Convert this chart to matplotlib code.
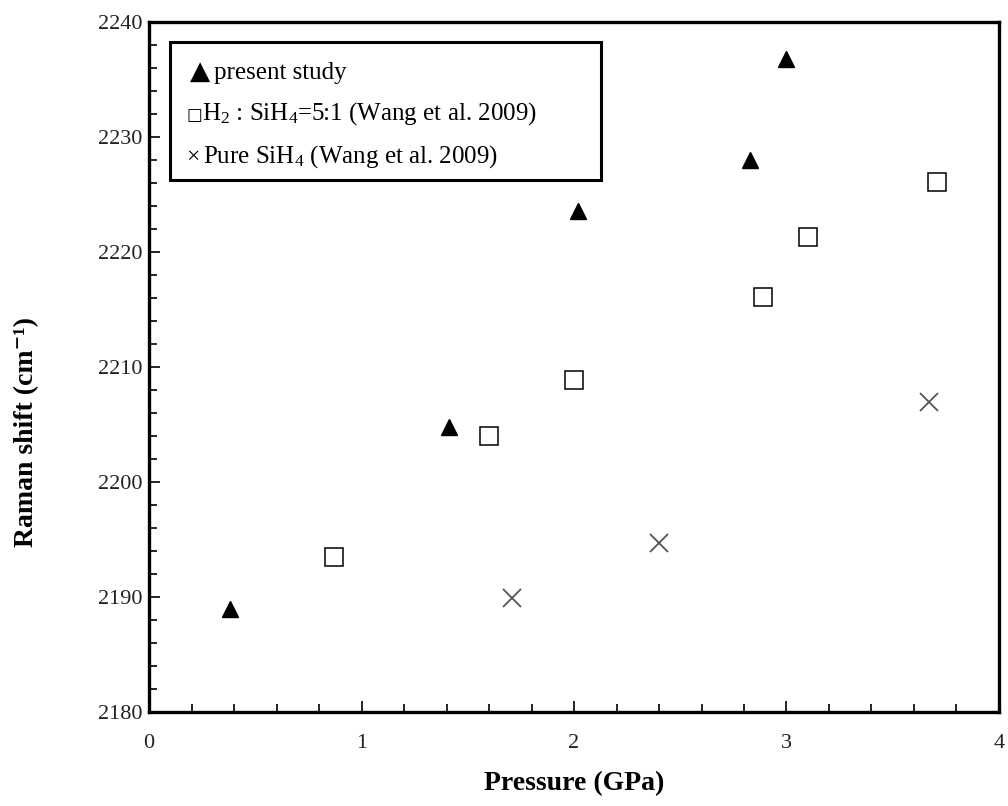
import matplotlib
matplotlib.use("Agg")
import matplotlib.pyplot as plt
from matplotlib.patches import Rectangle
from matplotlib.ticker import MultipleLocator

plt.rcParams['font.family'] = ['Liberation Serif', 'DejaVu Serif']
plt.rcParams['mathtext.fontset'] = 'custom'
plt.rcParams['mathtext.rm'] = 'Liberation Serif'
plt.rcParams['mathtext.it'] = 'Liberation Serif:italic'
plt.rcParams['mathtext.bf'] = 'Liberation Serif:bold'

# present study
tri_p = [0.38, 1.41, 2.02, 2.83, 3.00]
tri_r = [2189.0, 2204.8, 2223.6, 2228.0, 2236.8]
# H2:SiH4=5:1 (Wang et al. 2009)
sq_p = [0.87, 1.60, 2.00, 2.89, 3.10, 3.71]
sq_r = [2193.5, 2204.0, 2208.9, 2216.1, 2221.3, 2226.1]
# Pure SiH4 (Wang et al. 2009)
x_p = [1.71, 2.40, 3.67]
x_r = [2189.9, 2194.7, 2207.0]

legend_symbols = ["▲", "□", "×"]
legend_labels = ["present study",
                 "H$_2$ : SiH$_4$=5:1 (Wang et al. 2009)",
                 "Pure SiH$_4$ (Wang et al. 2009)"]

fig = plt.figure(figsize=(10.08, 8.06), dpi=100)
ax = fig.add_axes([0.148, 0.1166, 0.843, 0.8561])

ax.plot(tri_p, tri_r, linestyle='none', marker='^', markersize=11,
        color='black', zorder=3)
ax.plot(sq_p, sq_r, linestyle='none', marker='s', markersize=13,
        markerfacecolor='white', markeredgecolor='black', markeredgewidth=1.1, zorder=3)
ax.plot(x_p, x_r, linestyle='none', marker='x', markersize=13,
        color='#555555', markeredgewidth=1.3, zorder=3)

ax.set_xlim(0, 4)
ax.set_ylim(2180, 2240)
ax.xaxis.set_major_locator(MultipleLocator(1))
ax.xaxis.set_minor_locator(MultipleLocator(0.2))
ax.yaxis.set_major_locator(MultipleLocator(10))
ax.yaxis.set_minor_locator(MultipleLocator(2))
ax.tick_params(which='both', direction='in', labelsize=16, width=1.2,
               labelcolor='#222222')
ax.tick_params(which='major', length=8)
ax.tick_params(which='minor', length=6)
ax.tick_params(axis='x', which='both', pad=16, top=False)
ax.tick_params(axis='y', which='both', pad=5, right=False)
for s in ax.spines.values():
    s.set_linewidth(2.4)

ax.set_xlabel("Pressure (GPa)", fontsize=20, fontweight='bold')
ax.xaxis.set_label_coords(0.5, -0.085)
ax.set_ylabel("Raman shift (cm⁻¹)", fontsize=20, fontweight='bold')
ax.yaxis.set_label_coords(-0.129, 0.406)

# legend box
ax.add_patch(Rectangle((0.0247, 0.771), 0.507, 0.2, transform=ax.transAxes,
                       facecolor='white', edgecolor='black', linewidth=2.2, zorder=4))
sym_x = [0.0483, 0.0438, 0.0438]
sym_size = [19, 12, 17]
txt_x = [0.0764, 0.0625, 0.0634]
base_y = [0.917, 0.858, 0.796]
for s, sx, ss, t, tx, by in zip(legend_symbols, sym_x, sym_size, legend_labels, txt_x, base_y):
    ax.text(sx, by, s, transform=ax.transAxes, fontsize=ss, va='baseline',
            ha='left', zorder=5, family=['DejaVu Sans'] if s != "×" else ['Liberation Serif'])
    ax.text(tx, by, t, transform=ax.transAxes, fontsize=18, va='baseline',
            ha='left', zorder=5)

fig.savefig("out.png", dpi=100)
